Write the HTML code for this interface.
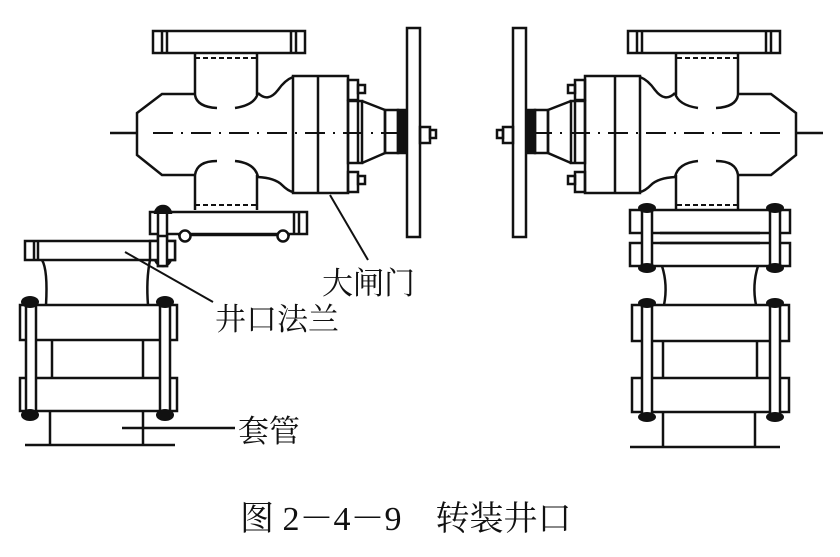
<!DOCTYPE html>
<html><head><meta charset="utf-8"><style>
html,body{margin:0;padding:0;background:#fff;}
svg{display:block;}
text{font-family:"Liberation Serif","Noto Serif CJK SC","Noto Sans CJK SC",serif;fill:#111;}
</style></head><body>
<svg width="840" height="557" viewBox="0 0 840 557" xmlns="http://www.w3.org/2000/svg">
<defs>
<g id="valve" fill="none" stroke="#111" stroke-width="2.5">
  <!-- top flange -->
  <rect x="153" y="31" width="152" height="22" fill="#fff"/>
  <line x1="162" y1="31" x2="162" y2="53"/><line x1="167" y1="31" x2="167" y2="53"/>
  <line x1="291" y1="31" x2="291" y2="53"/><line x1="296" y1="31" x2="296" y2="53"/>
  <!-- neck -->
  <line x1="195" y1="53" x2="195" y2="95"/><line x1="257" y1="53" x2="257" y2="95"/>
  <line x1="195" y1="58" x2="257" y2="58" stroke-dasharray="5,3" stroke-width="2"/>
  <!-- body -->
  <path d="M195,94 H162 L137,113 V155 L162,175 H195"/>
  <path d="M195,95 Q197,107 217,108"/><path d="M235,108 Q255,105 258,93"/>
  <path d="M195,175 Q197,161 217,161"/><path d="M235,161 Q255,163 258,177"/>
  <path d="M258,93 Q268,103 278,90 Q285,80 293,77"/>
  <path d="M258,177 Q275,178 282,185 Q288,191 293,192"/>
  <line x1="195" y1="175" x2="195" y2="210"/><line x1="257" y1="175" x2="257" y2="210"/>
  <line x1="195" y1="205" x2="257" y2="205" stroke-dasharray="5,3" stroke-width="2"/>
  <!-- bonnet flange -->
  <rect x="293" y="76" width="55" height="117" fill="#fff"/>
  <line x1="318" y1="76" x2="318" y2="193"/>
  <rect x="348" y="80" width="10" height="20"/><rect x="358" y="85" width="7" height="8"/>
  <rect x="348" y="172" width="10" height="20"/><rect x="358" y="176" width="7" height="8"/>
  <rect x="348" y="101" width="14" height="62"/>
  <line x1="358" y1="101" x2="358" y2="163"/>
  <path d="M362,101 L385,110 V153 L362,163"/>
  <rect x="385" y="110" width="13" height="43"/>
  <rect x="398" y="110" width="7" height="43" fill="#111"/>
  <rect x="407" y="28" width="13" height="209" fill="#fff"/>
  <rect x="420" y="127" width="10" height="16"/><rect x="430" y="130" width="6" height="8"/>
  <!-- centerline -->
  <line x1="110" y1="133" x2="136" y2="133"/>
  <line x1="153" y1="133" x2="405" y2="133" stroke-width="2" stroke-dasharray="20,8,2,8"/>
</g>
</defs>
<use href="#valve"/>
<use href="#valve" transform="translate(933,0) scale(-1,1)"/>

<g fill="none" stroke="#111" stroke-width="2.5">
  <!-- LEFT lower valve flange -->
  <rect x="150" y="212" width="157" height="22"/>
  <line x1="159" y1="212" x2="159" y2="234"/><line x1="294" y1="212" x2="294" y2="234"/><line x1="299" y1="212" x2="299" y2="234"/>
  <line x1="178" y1="235" x2="290" y2="235"/>
  <circle cx="185" cy="236" r="5.5" fill="#fff"/><circle cx="283" cy="236" r="5.5" fill="#fff"/>
  <rect x="158" y="208" width="9" height="58" fill="#fff"/>
  <path d="M155,214 a8,8 0 0 1 16,0" fill="#111"/>
  <path d="M155,258 a8,8 0 0 0 16,0" fill="#111"/>
  <!-- well flange -->
  <rect x="25" y="241" width="150" height="19"/>
  <line x1="34" y1="241" x2="34" y2="260"/><line x1="38" y1="241" x2="38" y2="260"/>
  <rect x="150" y="241" width="25" height="19" fill="#fff"/>
  <rect x="158" y="236" width="9" height="30" fill="#fff"/>
  <!-- spool -->
  <path d="M42,260 Q48,270 46,305"/><path d="M150,260 Q146,280 148,305"/>
  <!-- clamp -->
  <rect x="20" y="305" width="157" height="35"/><rect x="20" y="378" width="157" height="33"/>
  <line x1="52" y1="340" x2="52" y2="378"/><line x1="143" y1="340" x2="143" y2="378"/>
  <rect x="26" y="300" width="10" height="117" fill="#fff"/><rect x="160" y="300" width="10" height="117" fill="#fff"/>
  <!-- casing -->
  <line x1="50" y1="411" x2="50" y2="445"/><line x1="143" y1="411" x2="143" y2="445"/>
  <line x1="25" y1="445" x2="175" y2="445"/>
  <line x1="122" y1="428" x2="235" y2="428"/>
  <!-- leaders -->
  <line x1="330" y1="195" x2="368" y2="260" stroke-width="2"/>
  <line x1="125" y1="252" x2="213" y2="302" stroke-width="2"/>

  <!-- RIGHT lower -->
  <rect x="630" y="210" width="160" height="23"/><rect x="630" y="243" width="160" height="23"/>
  <line x1="660" y1="233" x2="760" y2="233"/><line x1="660" y1="243" x2="760" y2="243"/>
  <path d="M662,266 Q668,285 664,305"/><path d="M758,266 Q752,285 756,305"/>
  <rect x="632" y="305" width="157" height="36"/><rect x="632" y="378" width="157" height="34"/>
  <line x1="663" y1="341" x2="663" y2="378"/><line x1="757" y1="341" x2="757" y2="378"/>
  <line x1="663" y1="412" x2="663" y2="447"/><line x1="755" y1="412" x2="755" y2="447"/>
  <line x1="630" y1="447" x2="780" y2="447"/>
  <rect x="642" y="207" width="10" height="62" fill="#fff"/><rect x="770" y="207" width="10" height="62" fill="#fff"/>
  <rect x="642" y="302" width="10" height="115" fill="#fff"/><rect x="770" y="302" width="10" height="115" fill="#fff"/>
</g>
<g fill="#111">
  <ellipse cx="30" cy="302" rx="9" ry="6"/><ellipse cx="165" cy="302" rx="9" ry="6"/>
  <ellipse cx="30" cy="415" rx="9" ry="6"/><ellipse cx="165" cy="415" rx="9" ry="6"/>
  <ellipse cx="647" cy="208" rx="9" ry="5"/><ellipse cx="775" cy="208" rx="9" ry="5"/>
  <ellipse cx="647" cy="268" rx="9" ry="5"/><ellipse cx="775" cy="268" rx="9" ry="5"/>
  <ellipse cx="647" cy="303" rx="9" ry="5"/><ellipse cx="775" cy="303" rx="9" ry="5"/>
  <ellipse cx="647" cy="417" rx="9" ry="5"/><ellipse cx="775" cy="417" rx="9" ry="5"/>
</g>
<text x="322" y="294" font-size="31">大闸门</text>
<text x="215" y="330" font-size="31">井口法兰</text>
<text x="238" y="442" font-size="31">套管</text>
<text x="240" y="530" font-size="34">图 2－4－9　转装井口</text>
</svg>
</body></html>
